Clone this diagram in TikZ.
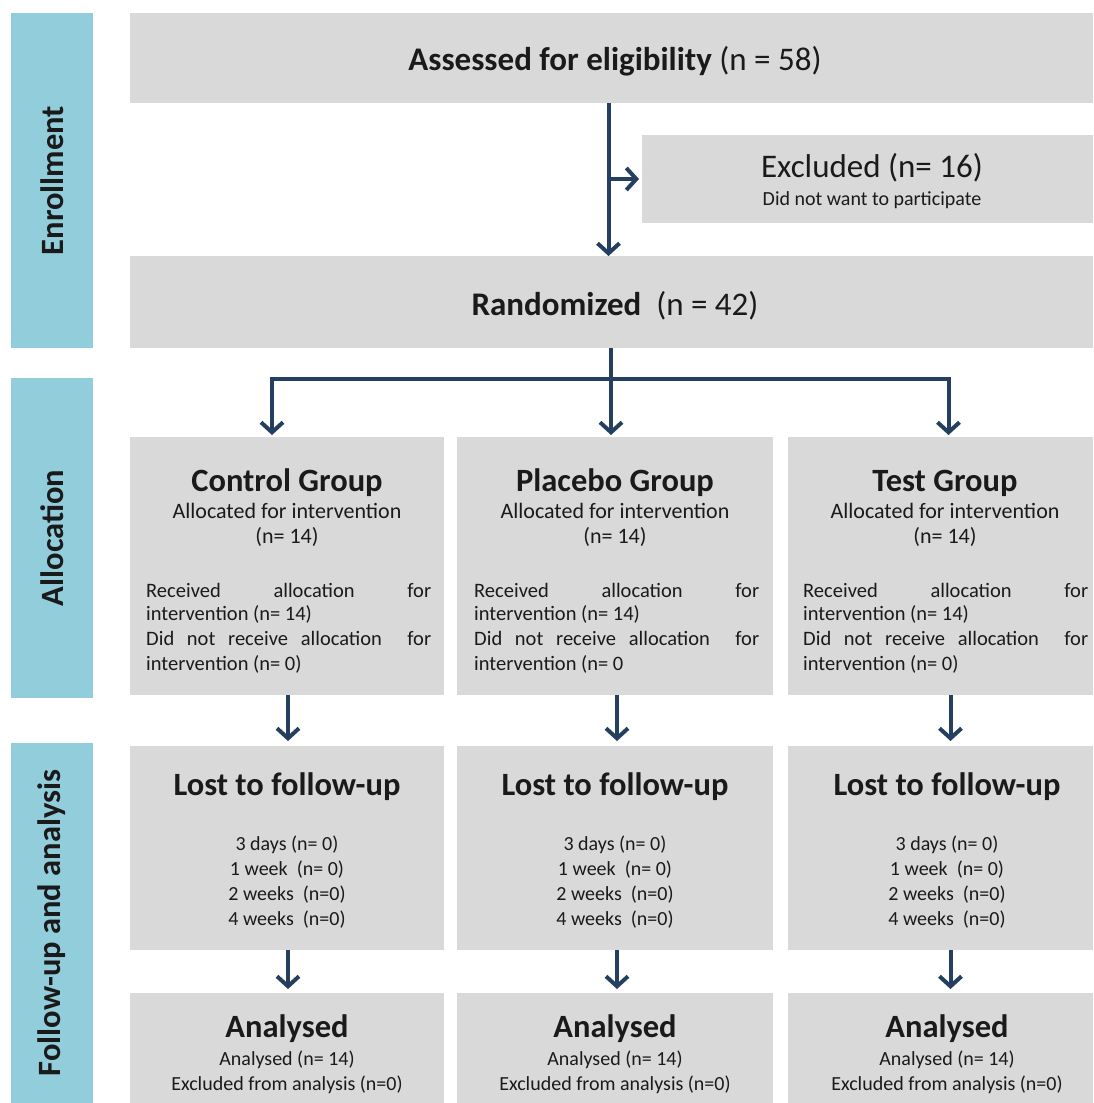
\documentclass[tikz,border=0pt]{standalone}
\usepackage{fontspec}
\setmainfont{Carlito}
\usetikzlibrary{arrows.meta,calc}
\definecolor{boxgrey}{HTML}{D9D9D9}
\definecolor{sideblue}{HTML}{92CDDC}
\definecolor{arrowc}{HTML}{243F60}
\definecolor{txt}{HTML}{1A1A1A}
\newcommand\fsz[1]{\fontsize{#1pt}{#1pt}\selectfont}
\newcommand\jsp{\hskip 0.25em plus 1fil\relax}
\newcommand\mkbox[6]{%
  \node[#1, anchor=north west, minimum width={(#5-#3)*1pt}, minimum height={(#6-#4)*1pt}] (#2) at (#3,#4) {};}
\newcommand\mkcol[6]{%
  \node[ttl] (#1T) at (#2,491) {#4};
  \node[sub] (#1S) at (#2,518) {Allocated for intervention};
  \node[sub] (#1N) at (#2,543) {(n= 14)};
  \node[body] (#1Ra) at (#3,597) {\hbox to 285pt{Received\jsp allocation\jsp for}};
  \node[body] (#1Rb) at (#3,620) {intervention (n= 14)};
  \node[body] (#1Da) at (#3,645) {\hbox to 285pt{Did\jsp not\jsp receive\jsp allocation\jsp\jsp for}};
  \node[body] (#1Db) at (#3,670) {#5};
  \node[ttl] (#1LT) at (#6,795) {Lost to follow-up};
  \node[small] (#1La) at (#6,850) {3 days (n= 0)};
  \node[small] (#1Lb) at (#6,875) {1 week \ (n= 0)};
  \node[small] (#1Lc) at (#6,900) {2 weeks \ (n=0)};
  \node[small] (#1Ld) at (#6,925) {4 weeks \ (n=0)};
  \node[ttl] (#1AT) at (#6,1037) {Analysed};
  \node[small] (#1Aa) at (#6,1065) {Analysed (n= 14)};
  \node[small] (#1Ab) at (#6,1090) {Excluded from analysis (n=0)};
}
\begin{document}
\begin{tikzpicture}[x=1pt,y=-1pt,
  gbox/.style={fill=boxgrey, draw=none, inner sep=0, outer sep=0},
  sbox/.style={fill=sideblue, draw=none, inner sep=0, outer sep=0},
  ttl/.style={font=\fsz{32.5}\bfseries, anchor=base, inner sep=0, text=txt},
  big/.style={font=\fsz{33}, anchor=base, inner sep=0, text=txt},
  sub/.style={font=\fsz{22}, anchor=base, inner sep=0, text=txt},
  body/.style={font=\fsz{20.5}, anchor=base west, inner sep=0, text=txt},
  small/.style={font=\fsz{20}, anchor=base, inner sep=0, text=txt},
  side/.style={font=\fsz{32.5}\bfseries, rotate=90, inner sep=0, text=txt},
  line/.style={draw=arrowc, line width=4pt},
  arr/.style={draw=arrowc, line width=4pt, -{Straight Barb[length=10pt,width=22pt]}}
]
\useasboundingbox[fill=white] (0,0) rectangle (1093,1103);

% side bars
\mkbox{sbox}{s1}{11}{13}{93}{348}
\mkbox{sbox}{s2}{11}{378}{93}{698}
\mkbox{sbox}{s3}{11}{743}{93}{1103}
\node[side] (s1T) at (s1.center) {Enrollment};
\node[side] (s2T) at (s2.center) {Allocation};
\node[side] (s3T) at (s3.center) {Follow-up and analysis};

% enrollment boxes
\mkbox{gbox}{asm}{130}{13}{1093}{103}
\mkbox{gbox}{exc}{642}{135}{1093}{223}
\mkbox{gbox}{rand}{130}{256}{1093}{348}
\node[big] (asmT) at (615,70) {\bfseries Assessed for eligibility\mdseries\ (n = 58)};
\node[big] (excT) at (872,177) {Excluded (n= 16)};
\node[small] (excS) at (872,205) {Did not want to participate};
\node[big] (randT) at (615,315) {\bfseries Randomized\mdseries\ \ (n = 42)};

% group boxes
\mkbox{gbox}{ctl}{130}{437}{444}{695}
\mkbox{gbox}{plc}{457}{437}{773}{695}
\mkbox{gbox}{tst}{788}{437}{1093}{695}
\mkbox{gbox}{ctlL}{130}{746}{444}{950}
\mkbox{gbox}{plcL}{457}{746}{773}{950}
\mkbox{gbox}{tstL}{788}{746}{1093}{950}
\mkbox{gbox}{ctlA}{130}{993}{444}{1103}
\mkbox{gbox}{plcA}{457}{993}{773}{1103}
\mkbox{gbox}{tstA}{788}{993}{1093}{1103}

\mkcol{c}{287}{146}{Control Group}{intervention (n= 0)}{287}
\mkcol{p}{615}{474}{Placebo Group}{intervention (n= 0}{615}
\mkcol{t}{945}{803}{Test Group}{intervention (n= 0)}{947}

% connectors
\coordinate (a1) at ([xshift=-3pt]asm.south);
\draw[arr] (a1) -- (a1 |- rand.north);
\draw[arr, shorten >=3pt] (a1 |- exc.west) -- (exc.west);
\coordinate (j) at (611,379);
\draw[line] (rand.south -| j) -- (j);
\draw[arr, shorten >=2pt] (j) -| ([xshift=-15pt]ctl.north);
\draw[arr, shorten >=2pt] (j) -- (j |- plc.north);
\draw[arr, shorten >=2pt] (j) -| ([xshift=8pt]tst.north);
\draw[arr, shorten >=5pt] ([xshift=1pt]ctl.south) -- ([xshift=1pt]ctlL.north);
\draw[arr, shorten >=5pt] ([xshift=2pt]plc.south) -- ([xshift=2pt]plcL.north);
\draw[arr, shorten >=5pt] ([xshift=10pt]tst.south) -- ([xshift=10pt]tstL.north);
\draw[arr, shorten >=4pt] ([xshift=1pt]ctlL.south) -- ([xshift=1pt]ctlA.north);
\draw[arr, shorten >=4pt] ([xshift=2pt]plcL.south) -- ([xshift=2pt]plcA.north);
\draw[arr, shorten >=4pt] ([xshift=10pt]tstL.south) -- ([xshift=10pt]tstA.north);
\end{tikzpicture}
\end{document}
